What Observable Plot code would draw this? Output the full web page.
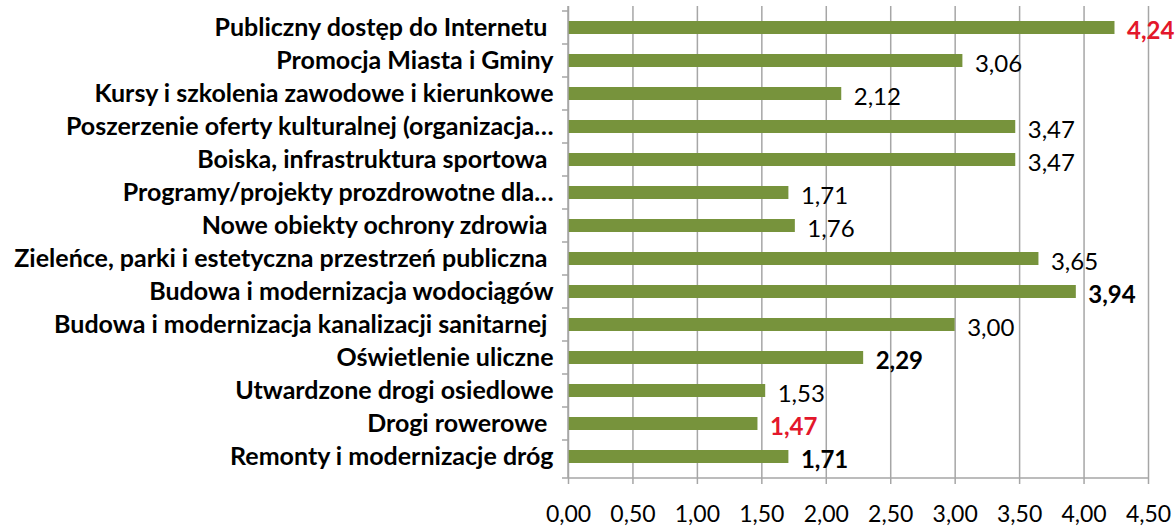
<!DOCTYPE html>
<html>
<head>
<meta charset="utf-8">
<script src="https://cdn.jsdelivr.net/npm/d3@7"></script>
<script src="https://cdn.jsdelivr.net/npm/@observablehq/plot@0.6"></script>
<style>
  html, body { margin: 0; padding: 0; background: #fff; }
</style>
</head>
<body>
<div id="chart"></div>
<script>
const categories = [
  "Publiczny dostęp do Internetu\u00a0",
  "Promocja Miasta i Gminy",
  "Kursy i szkolenia zawodowe i kierunkowe",
  "Poszerzenie oferty kulturalnej (organizacja…",
  "Boiska, infrastruktura sportowa\u00a0",
  "Programy/projekty prozdrowotne dla…",
  "Nowe obiekty ochrony zdrowia\u00a0",
  "Zieleńce, parki i estetyczna przestrzeń publiczna\u00a0",
  "Budowa i modernizacja wodociągów",
  "Budowa i modernizacja kanalizacji sanitarnej\u00a0",
  "Oświetlenie uliczne",
  "Utwardzone drogi osiedlowe",
  "Drogi rowerowe\u00a0",
  "Remonty i modernizacje dróg"
];
const values = [4.24, 3.06, 2.12, 3.47, 3.47, 1.71, 1.76, 3.65, 3.94, 3.00, 2.29, 1.53, 1.47, 1.71];
const xTicks = [0, 0.5, 1, 1.5, 2, 2.5, 3, 3.5, 4, 4.5];
// emphasis of value labels
const redLabels = ["Publiczny dostęp do Internetu\u00a0", "Drogi rowerowe\u00a0"];
const boldLabels = ["Budowa i modernizacja wodociągów", "Oświetlenie uliczne", "Remonty i modernizacje dróg"];

const data = categories.map((c, i) => ({category: c, value: values[i]}));
const fmt = v => d3.format(".2f")(v).replace(".", ",");

const green = "#77933C";
const gray = "#a6a6a6";
const red = "#e3172b";

function axisDecor(index, scales, vals, dimensions) {
  const {width, height, marginLeft, marginRight, marginTop, marginBottom} = dimensions;
  const y = scales.y;
  const bottom = height - marginBottom;
  const x0 = scales.x(0);
  const g = d3.create("svg:g").attr("stroke", gray).attr("stroke-width", 1.5).attr("fill", "none");
  g.append("line").attr("x1", x0).attr("x2", x0).attr("y1", marginTop).attr("y2", bottom);
  g.append("line").attr("x1", x0).attr("x2", scales.x(xTicks[xTicks.length - 1])).attr("y1", bottom).attr("y2", bottom);
  categories.forEach(c => {
    const yy = y(c);
    g.append("line").attr("x1", x0 - 6).attr("x2", x0).attr("y1", yy).attr("y2", yy);
  });
  g.append("line").attr("x1", x0 - 6).attr("x2", x0).attr("y1", bottom).attr("y2", bottom);
  return g.node();
}

const textOpts = {x: "value", y: "category", text: d => fmt(d.value), textAnchor: "start", dx: 12, dy: 3, fontSize: 24};

const chart = Plot.plot({
  width: 1175,
  height: 527,
  marginLeft: 568,
  marginRight: 27,
  marginTop: 6,
  marginBottom: 49,
  style: {fontFamily: "Lato, 'Open Sans', sans-serif", fontSize: "22px", color: "#000", background: "#fff", overflow: "visible"},
  x: {domain: [0, 4.5], label: null},
  y: {domain: categories, padding: 0, label: null},
  marks: [
    Plot.gridX(xTicks, {stroke: gray, strokeOpacity: 1, strokeWidth: 1.5}),
    Plot.barX(data, {x: "value", y: "category", fill: green, insetTop: 10, insetBottom: 10}),
    Plot.text(data.filter(d => !redLabels.includes(d.category) && !boldLabels.includes(d.category)),
      {...textOpts, fill: "#000"}),
    Plot.text(data.filter(d => boldLabels.includes(d.category)),
      {...textOpts, fill: "#000", fontWeight: "bold"}),
    Plot.text(data.filter(d => redLabels.includes(d.category)),
      {...textOpts, fill: red, fontWeight: "bold"}),
    Plot.axisX(xTicks, {tickSize: 6, tickPadding: 21, stroke: gray, strokeWidth: 1.5, tickFormat: fmt, fontSize: 23, fill: "#000", label: null}),
    Plot.axisY({tickSize: 0, tickPadding: 15, fontSize: 25, fontWeight: "bold", fill: "#000", label: null}),
    axisDecor
  ]
});
document.getElementById("chart").appendChild(chart);
</script>
</body>
</html>
